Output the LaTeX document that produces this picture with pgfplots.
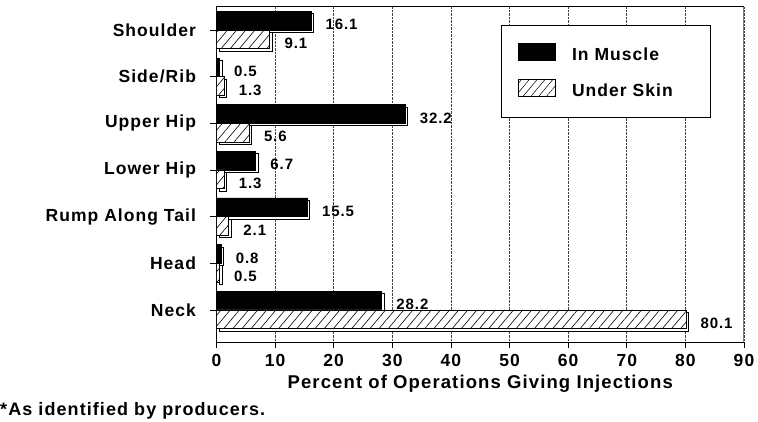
\documentclass[border=0pt]{standalone}
\usepackage{fontspec}
\usepackage{pgfplots}
\pgfplotsset{compat=1.18}
\usetikzlibrary{patterns.meta}
\setmainfont{Liberation Sans}[LetterSpace=6]

\tikzset{
  shadowed/.style={preaction={fill=white, draw=black, line width=0.7pt,
      transform canvas={shift={(2.5pt,-2.5pt)}}}},
}

\begin{document}
\begin{tikzpicture}
\useasboundingbox (-216.5pt,-79pt) rectangle (541.5pt,342pt);
\begin{axis}[
  at={(0pt,0pt)}, anchor=south west,
  scale only axis, width=527.5pt, height=335pt,
  xbar, bar width=0.4,
  xmin=0, xmax=90, ymin=-0.686, ymax=6.493,
  xtick={0,10,...,90},
  ytick={0,...,6},
  yticklabels={Neck,Head,Rump Along Tail,Lower Hip,Upper Hip,Side/Rib,Shoulder},
  tick align=outside, tick pos=left,
  major tick length=6pt,
  tick style={black, line width=0.8pt},
  xmajorgrids, grid style={densely dotted, black!75, line width=0.6pt},
  axis line style={black, line width=1pt},
  /pgf/number format/assume math mode=true,
  tick label style={font=\fontsize{17.5}{19}\selectfont\bfseries},
  yticklabel style={xshift=-11pt},
  xticklabel style={yshift=-3pt},
  xlabel={Percent of Operations Giving Injections},
  every axis x label/.style={at={(rel axis cs:0.5,0)}, yshift=-42pt, anchor=center,
    font=\fontsize{18.5}{20}\selectfont\bfseries},
  nodes near coords, nodes near coords align={horizontal},
  every node near coord/.append style={font=\fontsize{15}{17}\selectfont\bfseries,
    black, anchor=west, xshift=11pt, yshift=-4pt},
  legend style={at={(0.539,0.946)}, anchor=north west, draw=black, line width=0.8pt,
    inner xsep=17pt, inner ysep=17.5pt, row sep=15pt,
    font=\fontsize{17.5}{19}\selectfont\bfseries, cells={anchor=west},
    /tikz/every odd column/.append style={column sep=14pt}},
]
\addplot[forget plot, fill=black, draw=black, line width=0.7pt, bar shift=0.2, shadowed]
  coordinates {(28.2,0) (0.8,1) (15.5,2) (6.7,3) (32.2,4) (0.5,5) (16.1,6)};
\addplot[forget plot, draw=black, line width=0.7pt, bar shift=-0.2, shadowed, preaction={fill=white},
  pattern={Lines[angle=50, distance=7pt, line width=0.6pt]}, pattern color=black]
  coordinates {(80.1,0) (0.5,1) (2.1,2) (1.3,3) (5.6,4) (1.3,5) (9.1,6)};
\addlegendimage{legend image code/.code={\draw[fill=black, draw=black] (0pt,-5.5pt) rectangle (37pt,11.5pt);}}
\addlegendentry{\makebox[119pt][l]{In Muscle}}
\addlegendimage{legend image code/.code={\draw[draw=black, line width=0.6pt,
    pattern={Lines[angle=50, distance=6pt, line width=0.5pt]}] (0pt,-5.5pt) rectangle (37pt,11.5pt);}}
\addlegendentry{\makebox[119pt][l]{Under Skin}}
\draw[gray, line width=1.6pt] (rel axis cs:1,0) -- (rel axis cs:1,1);
\end{axis}
\node[anchor=west, inner sep=0pt, font=\fontsize{18}{20}\selectfont\bfseries]
  at (-216.5pt,-69pt) {*As identified by producers.};
\end{tikzpicture}
\end{document}
